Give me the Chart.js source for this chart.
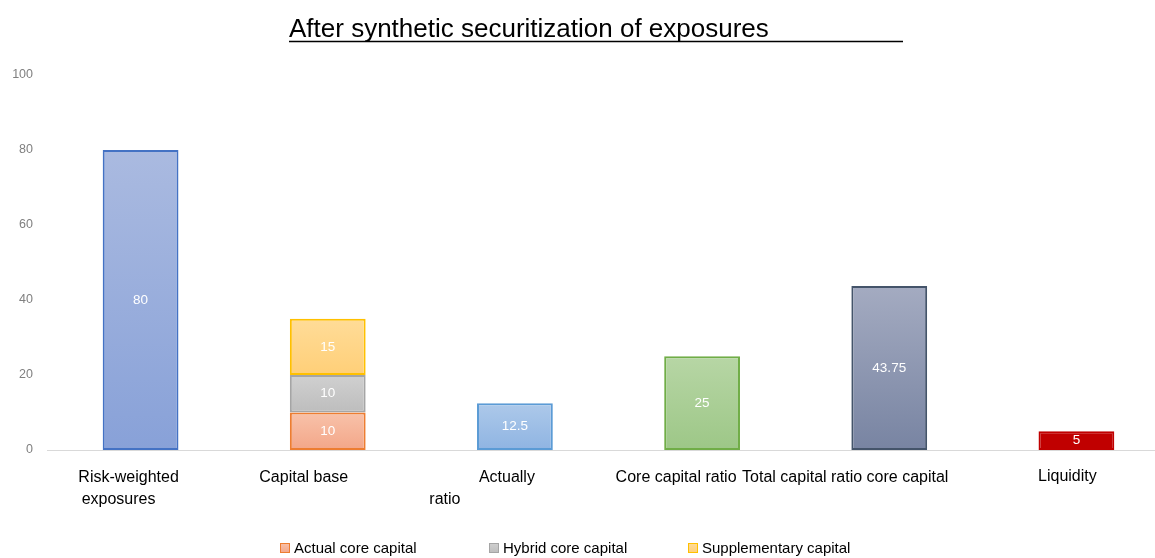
<!DOCTYPE html>
<html>
<head>
<meta charset="utf-8">
<title>After synthetic securitization of exposures</title>
<script src="https://cdn.jsdelivr.net/npm/chart.js@4.4.1/dist/chart.umd.min.js"></script>
<style>
  html, body { margin: 0; padding: 0; background: #fff; overflow: hidden; }
  #contenedor { position: relative; width: 1170px; height: 558px; }
</style>
</head>
<body>
<div id="contenedor"><canvas id="grafico"></canvas></div>
<script>
// DATOS DEL GRAFICO
const categorias = [
  ["Risk-weighted", "exposures"],
  ["Capital base"],
  ["Actually", "ratio"],
  ["Core capital ratio"],
  ["Total capital ratio core capital"],
  ["Liquidity"],
];
const valoresSimples = [80, null, 12.5, 25, 43.75, 5];
const capitalBasicoReal = [null, 10, null, null, null, null];
const capitalBasicoHibrido = [null, 10, null, null, null, null];
const capitalSuplementario = [null, 15, null, null, null, null];
const ticksY = [0, 20, 40, 60, 80, 100];

const titulo = "After synthetic securitization of exposures";
const fuente = "'Liberation Sans', Arial, sans-serif";

// COLORES: [arriba, abajo, borde]
const coloresSimples = [
  ["#aabae0", "#88a1d8", "#4472c4"],
  null,
  ["#adc9ea", "#8fb4e2", "#5b9bd5"],
  ["#b7d6a5", "#9dc787", "#70ad47"],
  ["#a4abc1", "#7884a2", "#44546a"],
  ["#c00000", "#c00000", "#c00000"],
];
const coloresApilados = [
  ["#f8c2aa", "#f3a688", "#ed7d31"],
  ["#d0d0d0", "#bdbdbd", "#a5a5a5"],
  ["#ffdc98", "#ffcf78", "#ffc000"],
];

// DESPLAZAMIENTO DE CADA LINEA DE ETIQUETA RESPECTO AL CENTRO DE LA BARRA
const ajusteEtiquetas = [[-12, -22], [-24], [-8, -70], [-26], [-44], [-9]];

// rango (base, tope) de un segmento, sumando los segmentos de abajo
function rangoSegmento(chart, dsIndex, i) {
  let base = 0;
  for (let j = 0; j < dsIndex; j++) {
    const v = chart.data.datasets[j].data[i];
    if (v != null) base += v;
  }
  return [base, base + (chart.data.datasets[dsIndex].data[i] || 0)];
}

function degradado(ctx, colores) {
  const chart = ctx.chart;
  const escalaY = chart.scales.y;
  if (!chart.chartArea || !escalaY || !colores) return colores ? colores[1] : "#ccc";
  const [base, tope] = rangoSegmento(chart, ctx.datasetIndex, ctx.dataIndex);
  const yTope = escalaY.getPixelForValue(tope);
  const yBase = escalaY.getPixelForValue(base);
  if (!isFinite(yTope) || !isFinite(yBase) || yTope === yBase) return colores[1];
  const g = chart.ctx.createLinearGradient(0, yTope, 0, yBase);
  g.addColorStop(0, colores[0]);
  g.addColorStop(1, colores[1]);
  return g;
}

//TITULO SUBRAYADO
const pluginTitulo = {
  id: "tituloSubrayado",
  afterDraw(chart) {
    const ctx = chart.ctx;
    ctx.save();
    ctx.font = `26px ${fuente}`;
    ctx.fillStyle = "#000";
    ctx.textBaseline = "alphabetic";
    ctx.textAlign = "left";
    ctx.fillText(titulo, 289, 37);
    ctx.strokeStyle = "#000";
    ctx.lineWidth = 1.5;
    ctx.beginPath();
    ctx.moveTo(289, 41.5);
    ctx.lineTo(903, 41.5);
    ctx.stroke();
    ctx.restore();
  },
};

//ETIQUETAS DEL EJE X
const pluginEtiquetasX = {
  id: "etiquetasX",
  afterDraw(chart) {
    const ctx = chart.ctx;
    const escalaX = chart.scales.x;
    ctx.save();
    ctx.font = `16px ${fuente}`;
    ctx.fillStyle = "#000";
    ctx.textAlign = "center";
    ctx.textBaseline = "alphabetic";
    categorias.forEach((lineas, i) => {
      const cx = escalaX.getPixelForValue(i);
      lineas.forEach((texto, k) => {
        const y = i === 5 ? 481 : 482 + k * 22;
        ctx.fillText(texto, cx + ajusteEtiquetas[i][k], y);
      });
    });
    ctx.restore();
  },
};

//VALORES DENTRO DE LAS BARRAS
const pluginValores = {
  id: "valores",
  afterDatasetsDraw(chart) {
    const ctx = chart.ctx;
    ctx.save();
    ctx.font = `13.5px ${fuente}`;
    ctx.fillStyle = "#fff";
    ctx.textAlign = "center";
    ctx.textBaseline = "middle";
    chart.data.datasets.forEach((ds, d) => {
      chart.getDatasetMeta(d).data.forEach((barra, i) => {
        const v = ds.data[i];
        if (v == null) return;
        const { x, y } = barra.getCenterPoint();
        ctx.fillText(String(v), x, y);
      });
    });
    ctx.restore();
  },
};

//LEYENDA INFERIOR
const pluginLeyenda = {
  id: "leyendaInferior",
  afterDraw(chart) {
    const ctx = chart.ctx;
    const inicios = [280, 489, 688];
    ctx.save();
    ctx.font = `15px ${fuente}`;
    ctx.textBaseline = "middle";
    ctx.textAlign = "left";
    chart.data.datasets.slice(1).forEach((ds, k) => {
      const col = coloresApilados[k];
      const x = inicios[k];
      const g = ctx.createLinearGradient(0, 543, 0, 553);
      g.addColorStop(0, col[0]);
      g.addColorStop(1, col[1]);
      ctx.fillStyle = g;
      ctx.fillRect(x, 543, 10, 10);
      ctx.strokeStyle = col[2];
      ctx.lineWidth = 1;
      ctx.strokeRect(x + 0.5, 543.5, 9, 9);
      ctx.fillStyle = "#000";
      ctx.fillText(ds.label, x + 14, 549);
    });
    ctx.restore();
  },
};

const grafico = document.getElementById("grafico");

new Chart(grafico, {
  type: "bar",
  data: {
    labels: categorias.map((l) => l.join(" ")),
    datasets: [
      {
        label: "Value",
        data: valoresSimples,
        backgroundColor: (ctx) => degradado(ctx, coloresSimples[ctx.dataIndex]),
        borderColor: coloresSimples.map((c) => (c ? c[2] : "#000")),
        borderWidth: 2,
        borderSkipped: false,
      },
      {
        label: "Actual core capital",
        data: capitalBasicoReal,
        backgroundColor: (ctx) => degradado(ctx, coloresApilados[0]),
        borderColor: coloresApilados[0][2],
        borderWidth: 2,
        borderSkipped: false,
      },
      {
        label: "Hybrid core capital",
        data: capitalBasicoHibrido,
        backgroundColor: (ctx) => degradado(ctx, coloresApilados[1]),
        borderColor: coloresApilados[1][2],
        borderWidth: 2,
        borderSkipped: false,
      },
      {
        label: "Supplementary capital",
        data: capitalSuplementario,
        backgroundColor: (ctx) => degradado(ctx, coloresApilados[2]),
        borderColor: coloresApilados[2][2],
        borderWidth: 2,
        borderSkipped: false,
      },
    ],
  },
  options: {
    responsive: true,
    maintainAspectRatio: false,
    animation: false,
    layout: { padding: { top: 75, right: 0, bottom: 108, left: 0 } },
    datasets: { bar: { barPercentage: 0.405, categoryPercentage: 1 } },
    plugins: {
      legend: { display: false },
      title: { display: false },
      tooltip: { enabled: false },
    },
    scales: {
      x: {
        stacked: true,
        grid: { display: false },
        ticks: { display: false },
        border: { display: true, color: "#d9d9d9", width: 1 },
        afterFit: (escala) => { escala.height = 0; },
      },
      y: {
        stacked: true,
        min: 0,
        max: 100,
        afterBuildTicks: (escala) => { escala.ticks = ticksY.map((v) => ({ value: v })); },
        grid: { display: false, drawTicks: false },
        border: { display: false },
        ticks: {
          color: "#808080",
          padding: 14,
          font: { family: fuente, size: 12.5 },
        },
        afterFit: (escala) => { escala.width = 47; },
      },
    },
  },
  plugins: [pluginTitulo, pluginEtiquetasX, pluginValores, pluginLeyenda],
});
</script>
</body>
</html>
